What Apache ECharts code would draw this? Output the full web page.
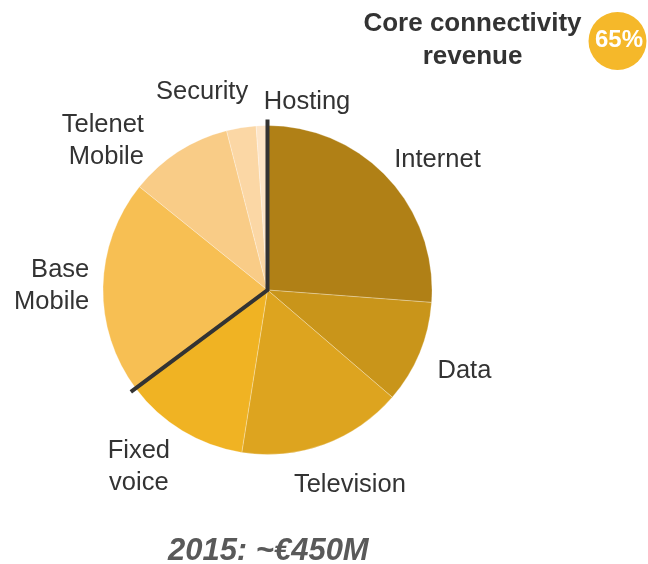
<!DOCTYPE html>
<html>
<head>
<meta charset="utf-8">
<script src="https://cdn.jsdelivr.net/npm/echarts@6/dist/echarts.min.js"></script>
<style>
  html, body { margin: 0; padding: 0; background: #fff; }
  #chart { width: 648px; height: 564px; }
</style>
</head>
<body>
<div id="chart"></div>
<script>
// Revenue split by product line, share of total (%)
const categories = ['Internet', 'Data', 'Television', 'Fixed\nvoice', 'Base\nMobile', 'Telenet\nMobile', 'Security', 'Hosting'];
const shares = [26.2, 10.1, 16.2, 12.3, 21.0, 10.2, 2.9, 1.1];
// Products counted as core connectivity revenue
const coreProducts = ['Internet', 'Data', 'Television', 'Fixed\nvoice'];
const coreTitle = 'Core connectivity\nrevenue';
const totalCaption = '2015: ~€450M';

// Styling
const sliceColors = ['#B08016', '#C9951A', '#DDA41F', '#F0B323', '#F7BF53', '#F9CC87', '#FBD7A5', '#FDE5C8'];
const labelAlign = ['center', 'center', 'center', 'center', 'right', 'right', 'center', 'center'];
const labelNudge = [[3, 6.7], [1.6, 4], [-0.5, 6.8], [-17.1, -8], [6.2, 0.5], [-42.6, 33], [-28.6, 0], [47.4, 12]];
const FONT = '"Liberation Sans", Arial, Helvetica, sans-serif';

// Pie geometry (pixels)
const CX = 267.5, CY = 290, R = 164.5, GAP = 20, DIVIDER_EXT = 6;

const total = shares.reduce((a, b) => a + b, 0);
const midAngles = [];
let acc = 0;
shares.forEach(v => { midAngles.push((acc + v / 2) / total * 2 * Math.PI); acc += v; });
const coreShare = shares.filter((v, i) => coreProducts.includes(categories[i])).reduce((a, b) => a + b, 0);
const coreEndAngle = coreShare / total * 2 * Math.PI;
const corePctText = Math.round(coreShare / total * 100) + '%';
// clockwise from 12 o'clock
const dirOf = a => [Math.sin(a), -Math.cos(a)];

// Divider separating core connectivity from the rest: top -> centre -> end of core arc
const topDir = dirOf(0), endDir = dirOf(coreEndAngle);
const dividerPoints = [
  [CX + topDir[0] * (R + DIVIDER_EXT), CY + topDir[1] * (R + DIVIDER_EXT)],
  [CX, CY],
  [CX + endDir[0] * (R + DIVIDER_EXT), CY + endDir[1] * (R + DIVIDER_EXT)]
];

const chart = echarts.init(document.getElementById('chart'), null, { renderer: 'canvas' });

chart.setOption({
  animation: false,
  backgroundColor: '#ffffff',
  series: [{
    type: 'pie',
    center: [CX, CY],
    radius: R,
    startAngle: 90,
    clockwise: true,
    avoidLabelOverlap: false,
    silent: true,
    data: categories.map((name, i) => ({ name: name, value: shares[i], itemStyle: { color: sliceColors[i] } })),
    itemStyle: { borderColor: 'rgba(255,255,255,0.45)', borderWidth: 0.6 },
    label: {
      show: true,
      position: 'outside',
      formatter: '{b}',
      fontFamily: FONT,
      fontSize: 25.5,
      lineHeight: 32,
      color: '#333333'
    },
    labelLine: { show: false },
    emphasis: { disabled: true },
    labelLayout: function (p) {
      const i = p.dataIndex;
      const d = dirOf(midAngles[i]);
      const w = p.labelRect.width, h = p.labelRect.height;
      let x = CX + d[0] * (R + GAP) + d[0] * w / 2 + labelNudge[i][0];
      const y = CY + d[1] * (R + GAP) + d[1] * h / 2 + labelNudge[i][1];
      if (labelAlign[i] === 'right') x += w / 2;
      return { x: x, y: y, align: labelAlign[i], verticalAlign: 'middle' };
    }
  }],
  graphic: [
    {
      type: 'polyline',
      z: 100,
      shape: { points: dividerPoints },
      style: { stroke: '#333333', lineWidth: 4, fill: null, lineJoin: 'miter' }
    },
    {
      type: 'text',
      x: 472.5, y: 40,
      style: {
        text: coreTitle, font: 'bold 26px ' + FONT, fill: '#333333', lineHeight: 33,
        align: 'center', verticalAlign: 'middle', textAlign: 'center', textVerticalAlign: 'middle'
      }
    },
    {
      type: 'circle',
      shape: { cx: 617.5, cy: 41, r: 29 },
      style: { fill: '#F5B82A' }
    },
    {
      type: 'text',
      x: 619, y: 40, z: 10,
      style: {
        text: corePctText, font: 'bold 24px ' + FONT, fill: '#ffffff',
        align: 'center', verticalAlign: 'middle', textAlign: 'center', textVerticalAlign: 'middle'
      }
    },
    {
      type: 'text',
      x: 268.3, y: 551.5,
      style: {
        text: totalCaption, font: 'italic bold 31px ' + FONT, fill: '#595959',
        align: 'center', verticalAlign: 'middle', textAlign: 'center', textVerticalAlign: 'middle'
      }
    }
  ]
});
</script>
</body>
</html>
